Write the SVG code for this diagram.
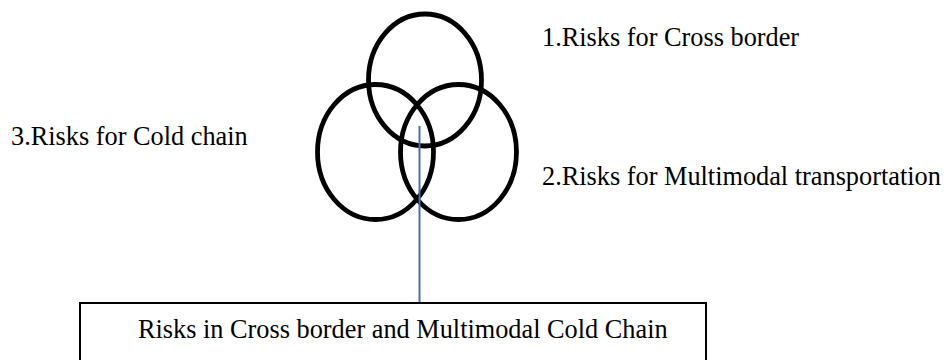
<svg xmlns="http://www.w3.org/2000/svg" width="949" height="360" viewBox="0 0 949 360">
<style>
.lbl{font-family:"Liberation Serif","Times New Roman",serif;font-size:26.3px;fill:#000}
.ring{fill:none;stroke:#000;stroke-width:4.8}
</style>
<rect width="949" height="360" fill="#fff"/>
<g id="circle-cross-border"><ellipse class="ring" cx="425" cy="80" rx="56.5" ry="66"/></g>
<g id="circle-cold-chain"><ellipse class="ring" cx="375.5" cy="152" rx="58" ry="67.5"/></g>
<g id="circle-multimodal"><ellipse class="ring" cx="458.5" cy="152" rx="58" ry="67.5"/></g>
<g id="label-1"><text class="lbl" x="542" y="46">1.Risks for Cross border</text></g>
<g id="label-3"><text class="lbl" x="11" y="145">3.Risks for Cold chain</text></g>
<g id="label-2"><text class="lbl" x="542" y="185">2.Risks for Multimodal transportation</text></g>
<g id="connectors"><line x1="419.5" y1="126" x2="419.5" y2="303" stroke="#4a6fa5" stroke-width="2"/></g>
<g id="result-box">
<rect x="80" y="303" width="626" height="70" fill="none" stroke="#000" stroke-width="2"/>
<text class="lbl" x="138" y="338">Risks in Cross border and Multimodal Cold Chain</text>
</g>
</svg>
